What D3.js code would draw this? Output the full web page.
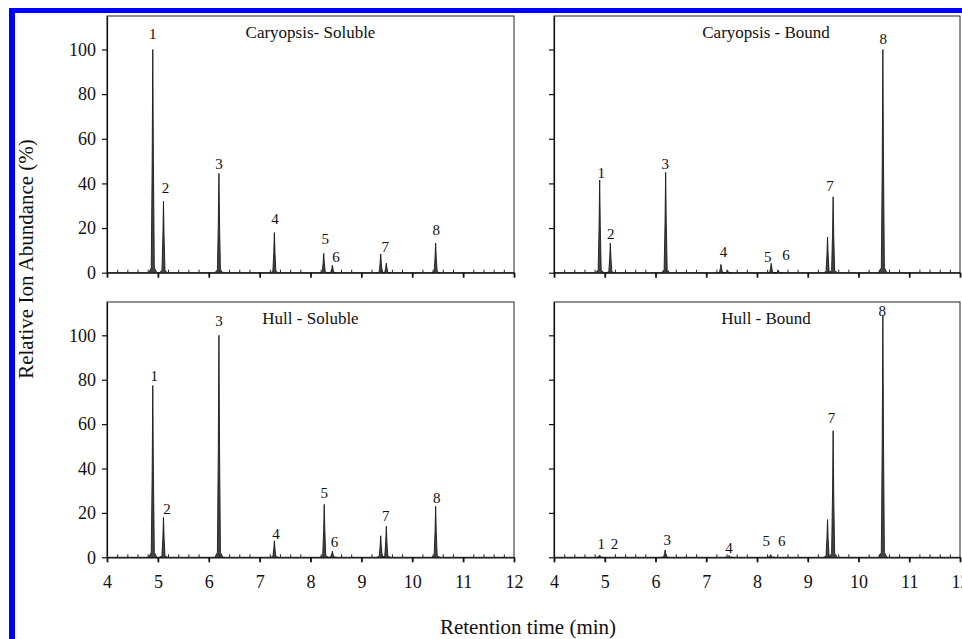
<!DOCTYPE html>
<html>
<head>
<meta charset="utf-8">
<script src="https://cdn.jsdelivr.net/npm/d3@7/dist/d3.min.js"></script>
<style>
body { margin: 0; background: #fff; }
svg { display: block; font-family: "Liberation Serif", "Times New Roman", serif; }
</style>
</head>
<body>
<div class="canvas"></div>
<script>
// panel titles
const titles = ['Caryopsis- Soluble', 'Caryopsis - Bound', 'Hull - Soluble', 'Hull - Bound']

// peaks: retention time (min) and relative abundance (%)
const csTimes   = [4.9, 5.11, 6.2, 7.29, 8.26, 8.43, 9.38, 9.49, 10.46]
const csHeights = [100, 32, 44.5, 18, 8.7, 3.4, 8.4, 4.3, 13.3]
const cbTimes   = [4.9, 5.11, 6.2, 7.29, 7.42, 8.28, 8.42, 9.39, 9.5, 10.48]
const cbHeights = [41.5, 13.2, 45, 3.7, 1, 4.2, 1, 16, 34, 100]
const hsTimes   = [4.9, 5.11, 6.2, 7.29, 8.27, 8.43, 9.38, 9.49, 10.46]
const hsHeights = [77.4, 18, 100, 7.5, 23.8, 2.8, 9.7, 14, 23]
const hbTimes   = [4.9, 6.19, 7.45, 8.27, 9.39, 9.5, 10.48]
const hbHeights = [1, 3.3, 0.8, 1.2, 17, 57, 109]

// peak number labels: where they sit (time, abundance)
const peakNames = ['1', '2', '3', '4', '5', '6', '7', '8']
const csLabelT = [4.9, 5.15, 6.2, 7.3, 8.29, 8.5, 9.47, 10.47]
const csLabelV = [107, 38, 49, 24, 15, 7.2, 11.6, 19.4]
const cbLabelT = [4.93, 5.12, 6.19, 7.34, 8.21, 8.57, 9.44, 10.49]
const cbLabelV = [45, 17.6, 49, 9.4, 7.2, 8.2, 39, 105]
const hsLabelT = [4.93, 5.18, 6.2, 7.32, 8.27, 8.47, 9.48, 10.48]
const hsLabelV = [82, 22, 106.6, 10.8, 29, 7, 18.7, 27]
const hbLabelT = [4.93, 5.19, 6.23, 7.45, 8.18, 8.49, 9.47, 10.47]
const hbLabelV = [6.3, 6.3, 7.8, 4.3, 7.5, 7.5, 63, 111]

// axes
const xMajor = [4, 5, 6, 7, 8, 9, 10, 11, 12]
const yMajor = [0, 20, 40, 60, 80, 100]

const W = 962, H = 639
const cols = [{x0: 107, x1: 514}, {x0: 554, x1: 960}]
const rows = [{y0: 16, y1: 272.7}, {y0: 302, y1: 557.3}]

const panels = [
    {title: titles[0], t: csTimes, h: csHeights, lt: csLabelT, lv: csLabelV, c: 0, r: 0},
    {title: titles[1], t: cbTimes, h: cbHeights, lt: cbLabelT, lv: cbLabelV, c: 1, r: 0},
    {title: titles[2], t: hsTimes, h: hsHeights, lt: hsLabelT, lv: hsLabelV, c: 0, r: 1},
    {title: titles[3], t: hbTimes, h: hbHeights, lt: hbLabelT, lv: hbLabelV, c: 1, r: 1}
]

const svg = d3.select('.canvas')
    .append('svg')
    .attr('width', W)
    .attr('height', H)

// blue frame of the figure
svg.append('rect').attr('x', 9).attr('y', 8).attr('width', 6).attr('height', H - 8).attr('fill', '#0000ff')
svg.append('rect').attr('x', 9).attr('y', 8).attr('width', W - 9).attr('height', 5).attr('fill', '#0000ff')

const minorTicks = d3.range(40, 121, 2).map(d => d / 10).filter(d => d % 1 !== 0)

panels.forEach(p => {
    const col = cols[p.c], row = rows[p.r]
    const x = d3.scaleLinear().domain([4, 12]).range([col.x0, col.x1])
    const y = d3.scaleLinear().domain([0, 115]).range([row.y1, row.y0])
    const g = svg.append('g')

    // box
    g.append('rect')
        .attr('x', col.x0).attr('y', row.y0)
        .attr('width', col.x1 - col.x0).attr('height', row.y1 - row.y0)
        .attr('fill', 'none').attr('stroke', '#222').attr('stroke-width', 1)

    // peaks as narrow spikes
    const line = d3.line().x(d => x(d[0])).y(d => y(d[1]))
    p.t.forEach((t, i) => {
        const h = p.h[i]
        const f = Math.min(h * 0.03, 2.2)
        const pts = [[t - 0.08, 0], [t - 0.03, f], [t - 0.012, h * 0.5], [t, h],
                     [t + 0.012, h * 0.5], [t + 0.03, f], [t + 0.08, 0]]
        g.append('path')
            .attr('d', line(pts))
            .attr('fill', '#444')
            .attr('stroke', '#1a1a1a')
            .attr('stroke-width', 0.9)
            .attr('stroke-linejoin', 'round')
    })

    // x axis: major ticks down, minor ticks up
    const xAxis = d3.axisBottom(x).tickValues(xMajor).tickSize(5).tickSizeOuter(0).tickPadding(13)
    if (p.r === 0) xAxis.tickFormat('')
    const xg = g.append('g').attr('transform', `translate(0,${row.y1})`).call(xAxis)
    xg.select('.domain').attr('stroke', '#111').attr('stroke-width', 1.3)
    xg.selectAll('.tick line').attr('stroke', '#111').attr('stroke-width', 1.8)
    xg.selectAll('text').attr('font-size', 18).attr('fill', '#111').attr('font-family', 'Liberation Serif')

    const mg = g.append('g').attr('transform', `translate(0,${row.y1})`)
        .call(d3.axisTop(x).tickValues(minorTicks).tickSize(3).tickFormat(''))
    mg.select('.domain').remove()
    mg.selectAll('.tick line').attr('stroke', '#222').attr('stroke-width', 1)

    // y axis
    const yAxis = d3.axisLeft(y).tickValues(yMajor).tickSize(5).tickSizeOuter(0).tickPadding(6)
    if (p.c === 1) yAxis.tickFormat('')
    const yg = g.append('g').attr('transform', `translate(${col.x0},0)`).call(yAxis)
    yg.select('.domain').attr('stroke', '#111').attr('stroke-width', 1.2)
    yg.selectAll('.tick line').attr('stroke', '#111').attr('stroke-width', 1.2)
    yg.selectAll('text').attr('font-size', 18).attr('fill', '#111').attr('font-family', 'Liberation Serif')

    // panel title
    g.append('text')
        .attr('x', p.c === 0 ? (col.x0 + col.x1) / 2 : (col.x0 + col.x1) / 2 + 9)
        .attr('y', row.y0 + 22)
        .attr('text-anchor', 'middle')
        .attr('font-size', 17)
        .attr('fill', '#111')
        .text(p.title)

    // peak numbers
    g.selectAll('.lab')
        .data(peakNames)
        .enter()
        .append('text')
        .attr('x', (d, i) => x(p.lt[i]))
        .attr('y', (d, i) => y(p.lv[i]))
        .attr('dy', '0.35em')
        .attr('text-anchor', 'middle')
        .attr('font-size', 15)
        .attr('fill', '#111')
        .text(d => d)
})

// axis titles
svg.append('text')
    .attr('transform', 'translate(33,259) rotate(-90)')
    .attr('text-anchor', 'middle')
    .attr('font-size', 21)
    .attr('fill', '#111')
    .text('Relative Ion Abundance (%)')

svg.append('text')
    .attr('x', 528)
    .attr('y', 634)
    .attr('text-anchor', 'middle')
    .attr('font-size', 21)
    .attr('fill', '#111')
    .text('Retention time (min)')
</script>
</body>
</html>
